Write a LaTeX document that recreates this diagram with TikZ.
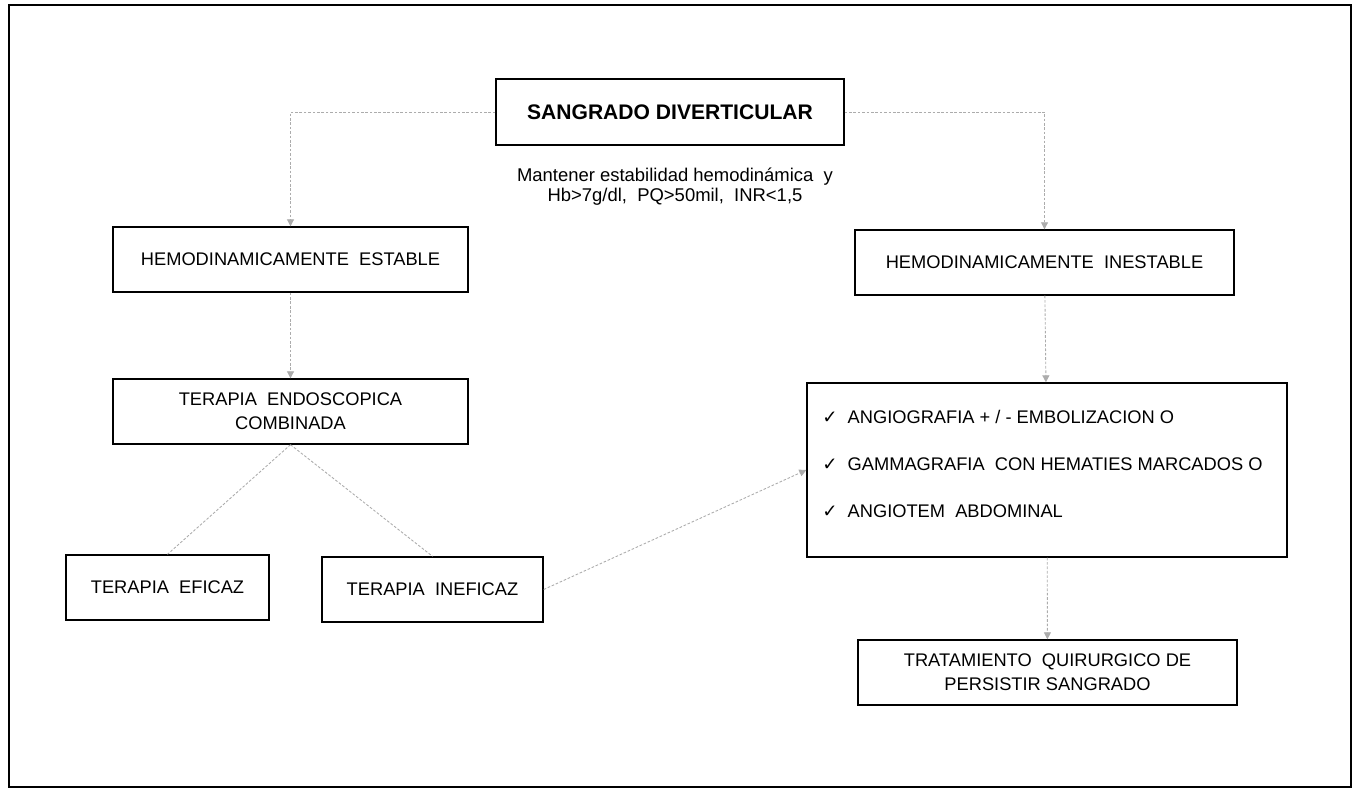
\documentclass[tikz,border=0pt]{standalone}
\usepackage{fontspec}
\setmainfont{Liberation Sans}
\newfontfamily\symfont{DejaVu Sans}
\usetikzlibrary{arrows.meta}
\newcommand{\chk}{{\symfont\char"2713}}

\begin{document}
\begin{tikzpicture}[
  x=0.02cm, y=-0.02cm,
  block/.style={rectangle, draw, line width=0.8pt, inner sep=0pt, align=center, font=\fontsize{10.4}{13.5}\selectfont},
  link/.style={draw=gray!65, line width=0.5pt, dash pattern=on 1.5pt off 1pt, -{Triangle[width=4pt,length=4pt]}},
  item/.style={anchor=base west, inner sep=0pt, font=\fontsize{10.4}{13.5}\selectfont}
]
\useasboundingbox (0,0) rectangle (1359,792);
\draw[line width=1.2pt] (9,5) rectangle (1351,787);

\node[block, minimum width=6.96cm, minimum height=1.32cm, font=\bfseries\fontsize{12}{14}\selectfont] (sangrado) at (670,112) {SANGRADO DIVERTICULAR};
\node[align=center, font=\fontsize{10.5}{11.4}\selectfont] (nota) at (675,187) {Mantener estabilidad hemodinámica~ y\\ Hb>7g/dl,~ PQ>50mil,~ INR<1,5};
\node[block, minimum width=7.1cm, minimum height=1.3cm] (estable) at (290.5,259.5) {HEMODINAMICAMENTE~ ESTABLE};
\node[block, minimum width=7.58cm, minimum height=1.3cm] (inestable) at (1044.5,262.5) {HEMODINAMICAMENTE~ INESTABLE};
\node[block, minimum width=7.1cm, minimum height=1.3cm] (endo) at (290.5,411.5) {TERAPIA~ ENDOSCOPICA\\COMBINADA};
\node[block, minimum width=4.06cm, minimum height=1.3cm] (eficaz) at (167.5,587.5) {TERAPIA~ EFICAZ};
\node[block, minimum width=4.42cm, minimum height=1.3cm] (ineficaz) at (432.5,589.5) {TERAPIA~ INEFICAZ};
\node[block, minimum width=9.6cm, minimum height=3.48cm] (opciones) at (1047,470) {};
\node[block, minimum width=7.58cm, minimum height=1.3cm] (cirugia) at (1047.5,672.5) {TRATAMIENTO~ QUIRURGICO DE\\PERSISTIR SANGRADO};

% opciones diagnostico-terapeuticas
\node[item] (angio) at (822,423) {\chk\hspace{0.2cm}ANGIOGRAFIA + / - EMBOLIZACION O};
\node[item] (gamma) at (822,470) {\chk\hspace{0.2cm}GAMMAGRAFIA~ CON HEMATIES MARCADOS O};
\node[item] (angiotem) at (822,517) {\chk\hspace{0.2cm}ANGIOTEM~ ABDOMINAL};

\draw[link] (sangrado.west) -| (estable.north);
\draw[link] (sangrado.east) -| (inestable.north);
\draw[link] (estable) -- (endo);
\draw[link] (inestable) -- (opciones);
\draw[link, -] (endo.south) -- (eficaz.north);
\draw[link, -] (endo.south) -- (ineficaz.north);
\draw[link] (ineficaz.east) -- (opciones.west);
\draw[link] (opciones) -- (cirugia);
\end{tikzpicture}
\end{document}
